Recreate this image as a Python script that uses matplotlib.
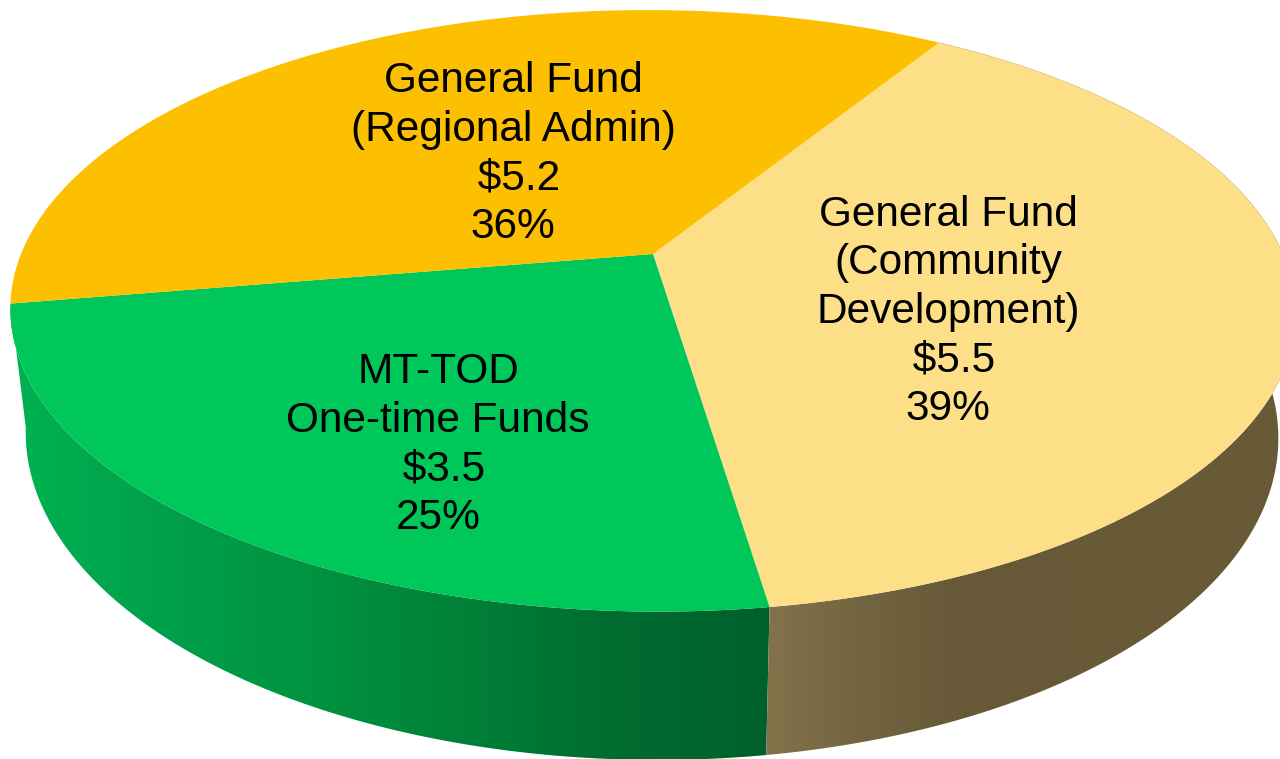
import numpy as np
import matplotlib
matplotlib.use("Agg")
import matplotlib.pyplot as plt
from matplotlib.colors import LinearSegmentedColormap
from matplotlib.patches import Polygon

# daten
names = ["General Fund\n(Community\nDevelopment)", "MT-TOD\nOne-time Funds", "General Fund\n(Regional Admin)"]
values = [5.5, 3.5, 5.2]
percents = ["39%", "25%", "36%"]

top_colors = ["#FCDF87", "#00C759", "#FCC000"]
label_pos = [(948, 312), (438, 445), (513, 154)]

start_angle = 32.3
k = 0.189  # perspektive vorne/hinten
shear = 0.017

plt.rcParams["font.family"] = ["Liberation Sans", "DejaVu Sans"]

fig = plt.figure(figsize=(12.8, 7.59), dpi=100)
ax = fig.add_axes([0, 0, 1, 1])
ax.set_xlim(0, 1280)
ax.set_ylim(759, 0)
ax.axis("off")


# winkel (grad, im uhrzeigersinn von oben) auf die obere oder untere flaeche abbilden
def rim(angle, cx, cy, a, b):
    t = np.radians(angle)
    u = np.sin(t)
    v = np.cos(t)
    w = 1 + k * v
    y = cy - b * v / w
    return cx + a * u / w + shear * (y - cy), y


def top_rim(angle):
    return rim(angle, 652, 254, 631, 290)


def bottom_rim(angle):
    return rim(angle, 651, 374, 615, 313)


def side(a1, a2, c_list, x1, x2):
    ang = np.linspace(a1, a2, 300)
    xt, yt = top_rim(ang)
    xb, yb = bottom_rim(ang[::-1])
    poly = Polygon(np.column_stack([np.r_[xt, xb], np.r_[yt, yb]]), closed=True,
                   facecolor="none", edgecolor="none")
    ax.add_patch(poly)
    cmap = LinearSegmentedColormap.from_list("s", c_list)
    grad = np.linspace(0, 1, 256).reshape(1, -1)
    im = ax.imshow(grad, cmap=cmap, extent=[x1, x2, 759, 0], aspect="auto", zorder=1)
    im.set_clip_path(poly)


edges = start_angle + np.r_[0, np.cumsum(values)] / np.sum(values) * 360

# seitenflaechen (nur die vorderen zwei sind zu sehen)
side(edges[1], edges[2], ["#00B252", "#00A04A", "#009340", "#008038", "#006C30", "#00602B", "#00602B"], 10, 922)
side(edges[0], edges[1], ["#84744C", "#726440", "#675937", "#685A37", "#685A37", "#685A37"], 760, 1285)
ax.set_xlim(0, 1280)
ax.set_ylim(759, 0)

# deckel
for i in range(3):
    ang = np.linspace(edges[i], edges[i + 1], 300)
    x, y = top_rim(ang)
    ax.add_patch(Polygon(np.column_stack([np.r_[653, x], np.r_[254, y]]), closed=True,
                         facecolor=top_colors[i], edgecolor="none", zorder=2))

# beschriftung (vor dem dollar steht im original ein leerzeichen)
for i in range(3):
    txt = names[i] + "\n \\$" + f"{values[i]:.1f}" + "\n" + percents[i]
    ax.text(label_pos[i][0], label_pos[i][1], txt, ha="center", va="center",
            multialignment="center", fontsize=30.5, color="black", linespacing=1.277, zorder=3)

fig.savefig("out.png", dpi=100, facecolor="white")
